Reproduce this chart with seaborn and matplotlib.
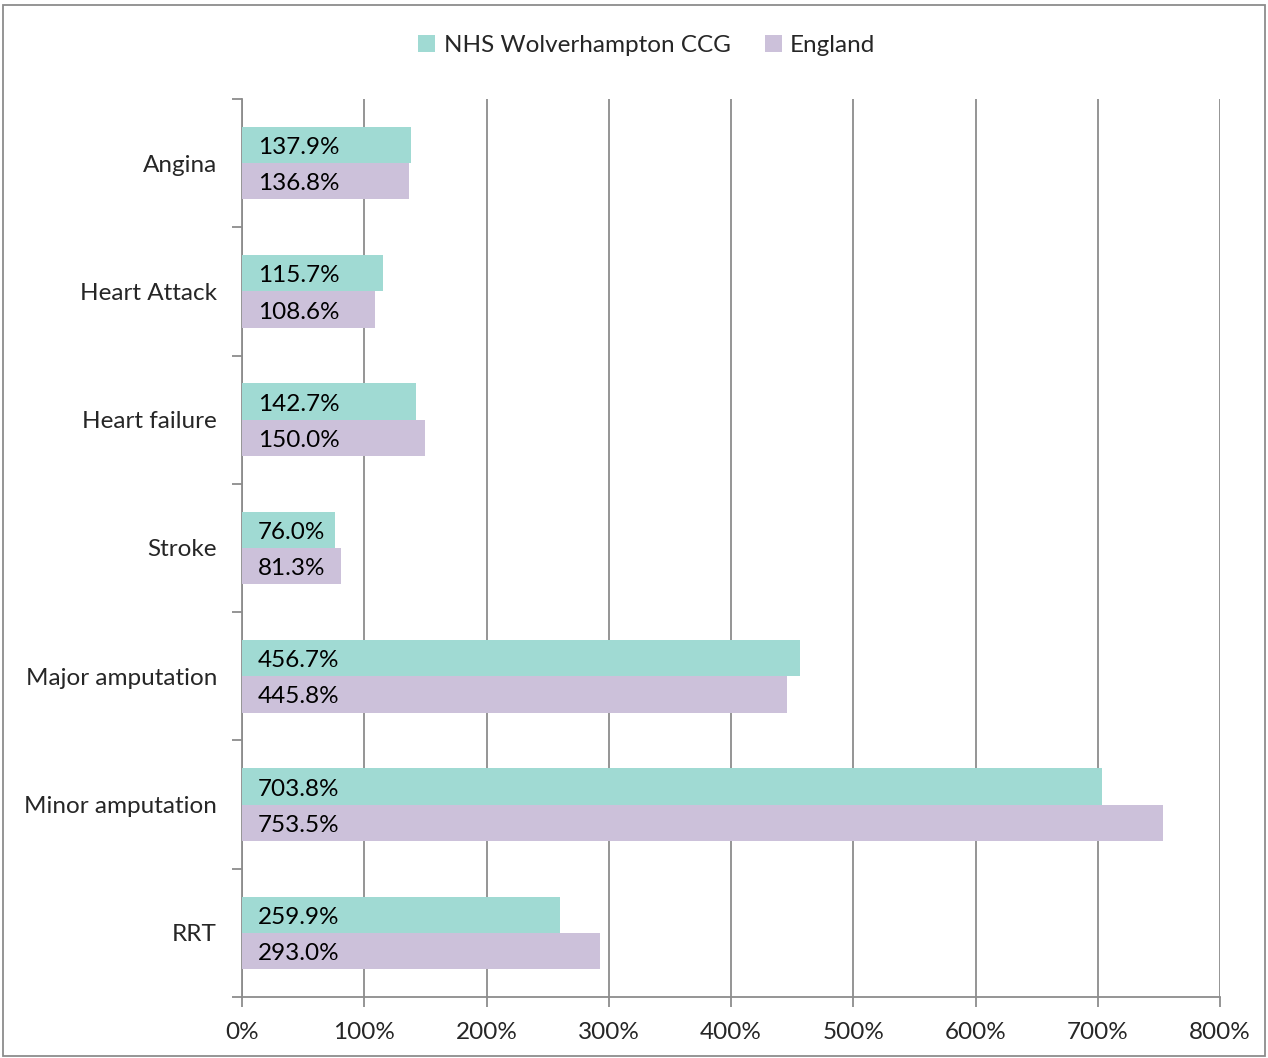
import pandas as pd
import seaborn as sns
import matplotlib.pyplot as plt
from matplotlib.patches import Rectangle
from matplotlib.ticker import FuncFormatter, FixedLocator

categories = ["Angina", "Heart Attack", "Heart failure", "Stroke",
              "Major amputation", "Minor amputation", "RRT"]
wolverhampton = [137.9, 115.7, 142.7, 76.0, 456.7, 703.8, 259.9]
england = [136.8, 108.6, 150.0, 81.3, 445.8, 753.5, 293.0]
series_names = ["NHS Wolverhampton CCG", "England"]
colors = ["#A0DAD3", "#CCC1DA"]

df = pd.DataFrame({
    "category": categories * 2,
    "value": wolverhampton + england,
    "series": [series_names[0]] * len(categories) + [series_names[1]] * len(categories),
})

sns.set_theme(style="white")
plt.rcParams['font.family'] = ['Lato', 'DejaVu Sans']

fig = plt.figure(figsize=(12.68, 10.58), dpi=100)
ax = fig.add_axes([242 / 1268, 1 - 997 / 1058, (1220 - 242) / 1268, (997 - 99) / 1058])

sns.barplot(data=df, y="category", x="value", hue="series", palette=colors,
            saturation=1, width=0.565, orient="h", ax=ax, legend=True,
            linewidth=0, zorder=3)

ax.set_xlim(0, 800)
ax.set_ylim(len(categories) - 0.5, -0.5)
ax.set_xticks(range(0, 801, 100))
ax.xaxis.set_major_formatter(FuncFormatter(lambda v, p: f"{v:.0f}%"))
ax.grid(axis="x", color="#8C8C8C", linewidth=1.3, zorder=0)
ax.set_axisbelow(True)
ax.set_xlabel("")
ax.set_ylabel("")

# category labels, tick marks at boundaries
fs = 17.5
ax.set_yticks(range(len(categories)))
ax.set_yticklabels(categories, fontsize=fs)
ax.tick_params(axis="y", length=0, pad=18)
ax.yaxis.set_minor_locator(FixedLocator([i - 0.5 for i in range(len(categories) + 1)]))
ax.tick_params(axis="y", which="minor", left=True, length=7, width=1.3, color="#8C8C8C")
ax.tick_params(axis="x", bottom=True, length=7, width=1.3, color="#8C8C8C",
               labelsize=fs, pad=11)

for side in ["top", "right"]:
    ax.spines[side].set_visible(False)
for side in ["left", "bottom"]:
    ax.spines[side].set_color("#8C8C8C")
    ax.spines[side].set_linewidth(1.3)

for container in ax.containers:
    for bar in container:
        ax.text(13, bar.get_y() + bar.get_height() / 2 + 0.02, f"{bar.get_width():.1f}%",
                va="center", ha="left", fontsize=fs, color="black", zorder=5)

handles, labels = ax.get_legend_handles_labels()
ax.legend_.remove()
fig.legend(handles, labels, loc="upper center", bbox_to_anchor=(0.51, 0.988), ncol=2,
           frameon=False, fontsize=fs, handlelength=0.7, handleheight=0.7,
           handletextpad=0.35, columnspacing=1.4)

fig.patches.append(Rectangle((0.002, 0.002), 0.996, 0.993, transform=fig.transFigure,
                             fill=False, edgecolor="#8C8C8C", linewidth=1.3))

fig.savefig("out.png", dpi=100)
